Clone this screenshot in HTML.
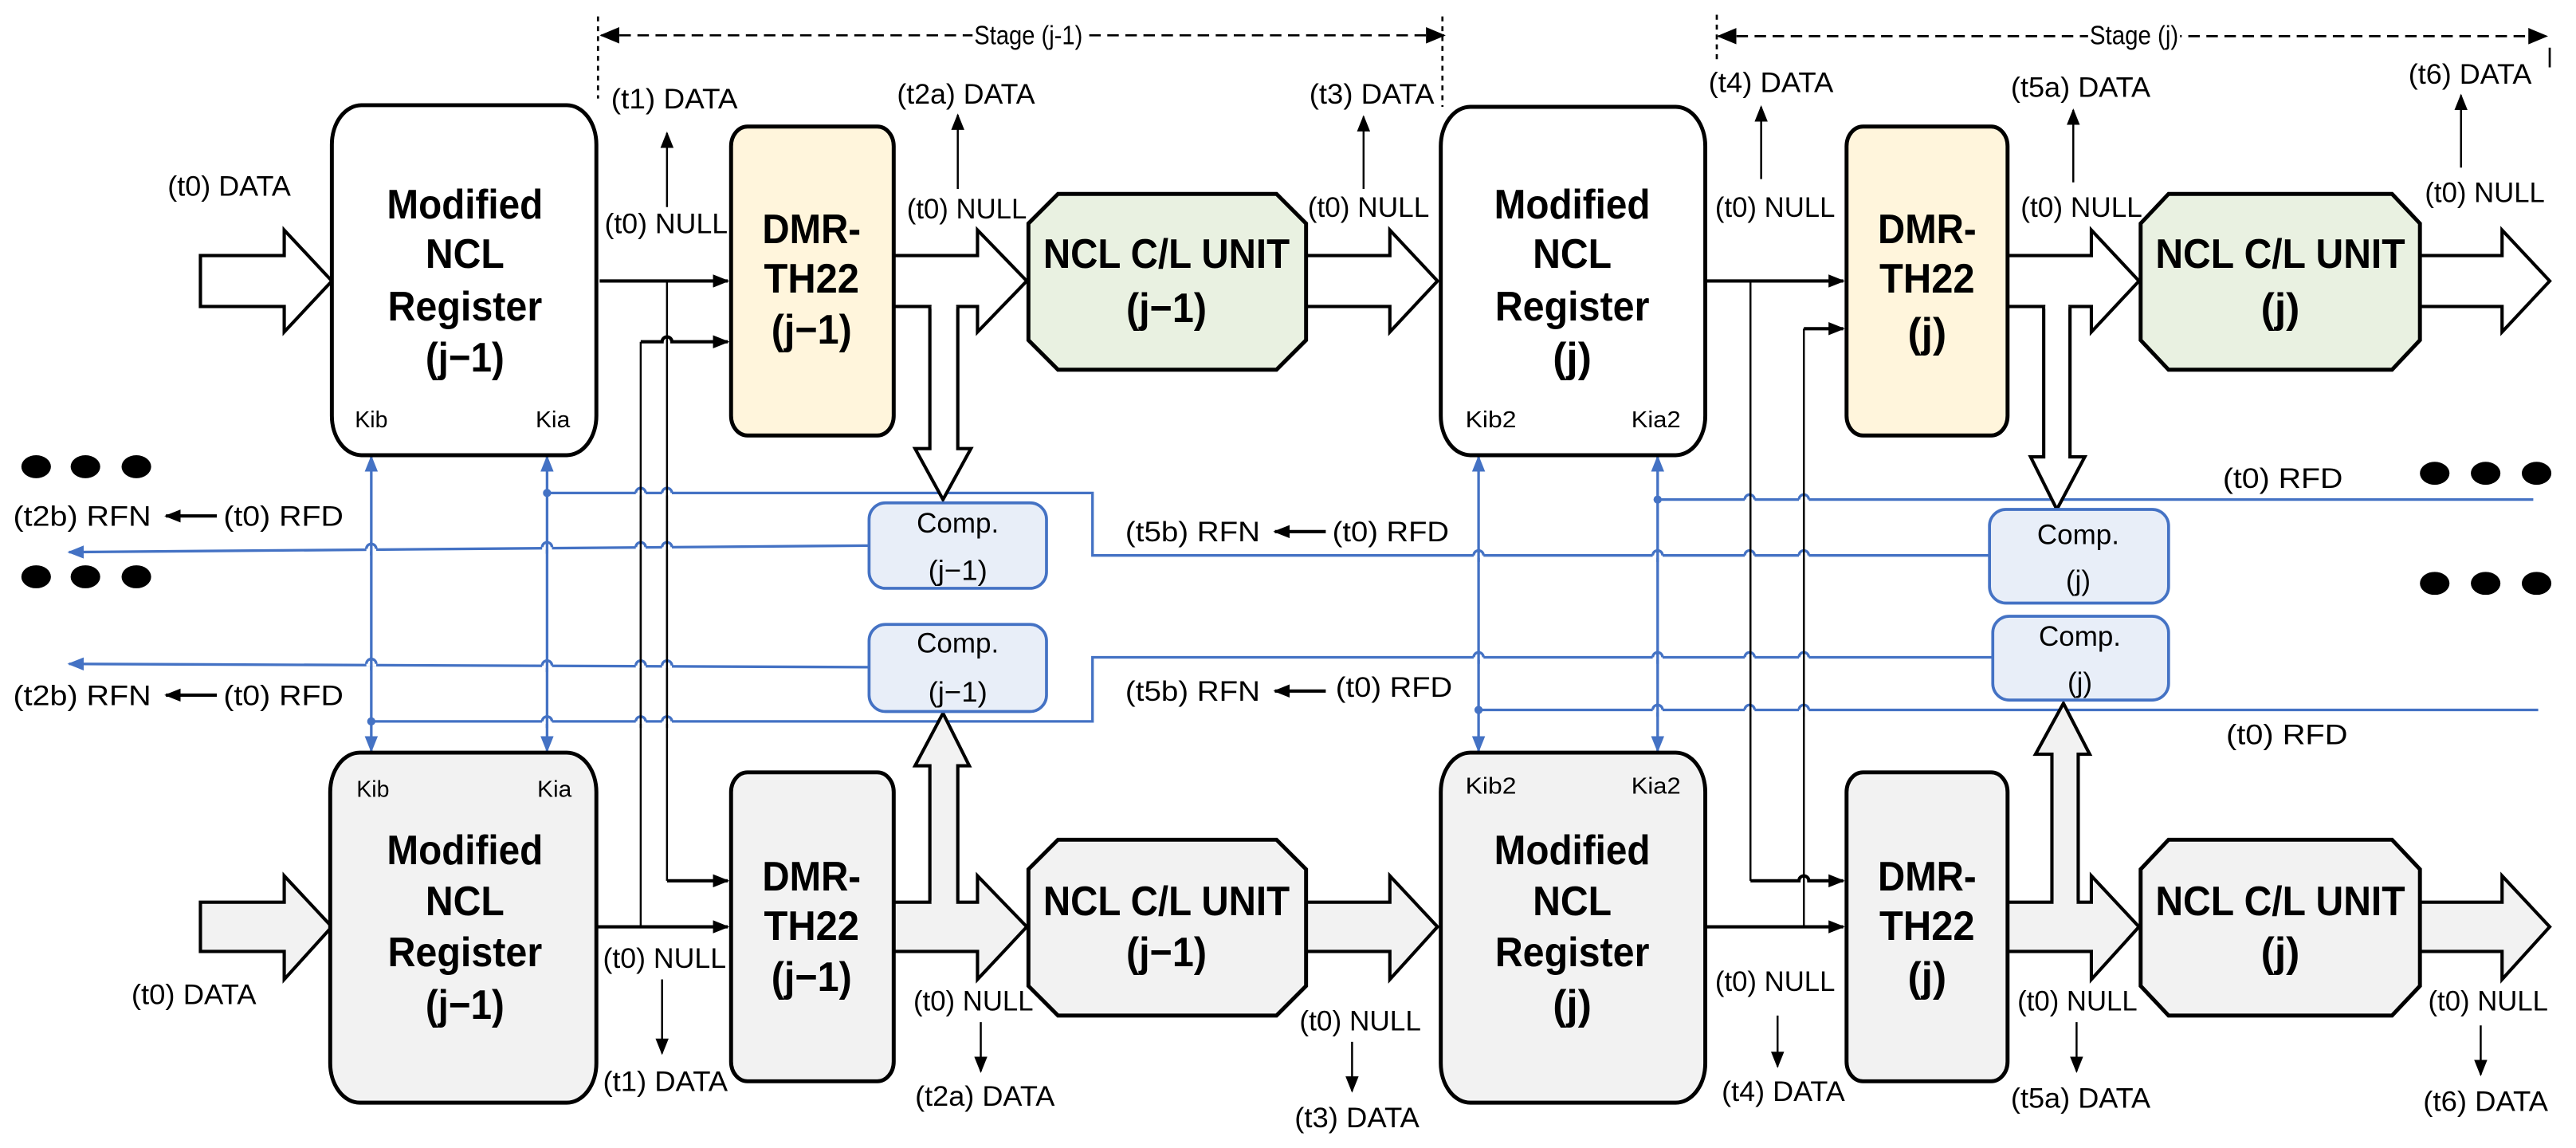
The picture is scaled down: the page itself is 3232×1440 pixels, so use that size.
<!DOCTYPE html>
<html><head><meta charset="utf-8"><style>
html,body{margin:0;padding:0;background:#fff;}
svg{display:block;}
text{font-family:"Liberation Sans Narrow","Liberation Sans",sans-serif;fill:#000;}
.l{font-size:17px;}
.b{font-size:25px;font-weight:bold;text-anchor:middle;}
.s{font-size:14px;}
.c{font-size:17px;text-anchor:middle;}
.bx{stroke:#000;stroke-width:2.4;}
.bl{stroke:#4472c4;stroke-width:1.6;fill:none;}
.k{stroke:#000;stroke-width:1.2;fill:none;}
.kk{stroke:#000;stroke-width:2;fill:none;}
.fa{stroke:#000;stroke-width:2;}
</style></head><body>
<svg width="3232" height="1440" viewBox="0 0 1568 698.6" preserveAspectRatio="none" xmlns="http://www.w3.org/2000/svg">
<defs>
<marker id="ah" markerUnits="userSpaceOnUse" markerWidth="10" markerHeight="8" refX="9" refY="4" orient="auto"><path d="M0,0 L10,4 L0,8 z" fill="#000"/></marker>
<marker id="ahb" markerUnits="userSpaceOnUse" markerWidth="10" markerHeight="8" refX="9" refY="4" orient="auto"><path d="M0,0 L10,4 L0,8 z" fill="#4472c4"/></marker>
<marker id="ahbs" markerUnits="userSpaceOnUse" markerWidth="10" markerHeight="8" refX="1" refY="4" orient="auto"><path d="M10,0 L0,4 L10,8 z" fill="#4472c4"/></marker>
<marker id="ahs" markerUnits="userSpaceOnUse" markerWidth="12" markerHeight="10" refX="1" refY="5" orient="auto"><path d="M12,0 L0,5 L12,10 z" fill="#000"/></marker>
<marker id="ahe" markerUnits="userSpaceOnUse" markerWidth="12" markerHeight="10" refX="11" refY="5" orient="auto"><path d="M0,0 L12,5 L0,10 z" fill="#000"/></marker>
</defs>

<g stroke="#000" stroke-width="1.3" fill="none">
<line x1="364" y1="10" x2="364" y2="60" stroke-dasharray="3,3"/>
<line x1="878" y1="10" x2="878" y2="65" stroke-dasharray="3,3"/>
<line x1="1045" y1="9" x2="1045" y2="36" stroke-dasharray="3,3"/>
<line x1="1552" y1="29" x2="1552" y2="41"/>
<line x1="366" y1="21.5" x2="879" y2="21.5" stroke-dasharray="7,4" marker-start="url(#ahs)" marker-end="url(#ahe)"/>
<line x1="1046" y1="22" x2="1550" y2="22" stroke-dasharray="7,4" marker-start="url(#ahs)" marker-end="url(#ahe)"/>
</g>
<rect x="592" y="12" width="68" height="18" fill="#fff"/>
<text x="626" y="27" style="font-size:16px" text-anchor="middle" textLength="66" lengthAdjust="spacingAndGlyphs">Stage (j-1)</text>
<rect x="1271" y="12" width="56" height="18" fill="#fff"/>
<text x="1299" y="27" style="font-size:16px" text-anchor="middle" textLength="54" lengthAdjust="spacingAndGlyphs">Stage (j)</text>

<g class="bl">
<path d="M333,300 H665 V338 H1211"/>
<path d="M529,332 L42,336" marker-end="url(#ahb)"/>
<path d="M529,406 L42,404" marker-end="url(#ahb)"/>
<path d="M226,439 H665 V400 H1213"/>
<path d="M1009,304 H1542"/>
<path d="M900,432 H1545"/>
<line x1="226" y1="457" x2="226" y2="278" marker-end="url(#ahb)" marker-start="url(#ahbs)"/>
<line x1="333" y1="457" x2="333" y2="278" marker-end="url(#ahb)" marker-start="url(#ahbs)"/>
<line x1="900" y1="457" x2="900" y2="278" marker-end="url(#ahb)" marker-start="url(#ahbs)"/>
<line x1="1009" y1="457" x2="1009" y2="278" marker-end="url(#ahb)" marker-start="url(#ahbs)"/>
</g>
<g fill="#4472c4"><circle cx="333" cy="300" r="2.5"/><circle cx="226" cy="439" r="2.5"/><circle cx="1009" cy="304" r="2.5"/><circle cx="900" cy="432" r="2.5"/></g>

<g class="k">
<line x1="390" y1="208" x2="390" y2="564"/>
<line x1="406" y1="171" x2="406" y2="536"/>
<line x1="1065.5" y1="171" x2="1065.5" y2="536"/>
<line x1="1098" y1="200" x2="1098" y2="564"/>
</g>

<g stroke="#fff" stroke-width="3">
<line x1="387" y1="300" x2="393" y2="300"/><line x1="403" y1="300" x2="409" y2="300"/>
<line x1="223" y1="334" x2="229" y2="334"/><line x1="330" y1="333" x2="336" y2="333"/><line x1="387" y1="333" x2="393" y2="333"/><line x1="403" y1="333" x2="409" y2="333"/>
<line x1="223" y1="404" x2="229" y2="404"/><line x1="330" y1="405" x2="336" y2="405"/><line x1="387" y1="405" x2="393" y2="405"/><line x1="403" y1="405" x2="409" y2="405"/>
<line x1="330" y1="439" x2="336" y2="439"/><line x1="387" y1="439" x2="393" y2="439"/><line x1="403" y1="439" x2="409" y2="439"/>
<line x1="897" y1="338" x2="903" y2="338"/><line x1="1006" y1="338" x2="1012" y2="338"/><line x1="1062" y1="338" x2="1068" y2="338"/><line x1="1095" y1="338" x2="1101" y2="338"/>
<line x1="897" y1="400" x2="903" y2="400"/><line x1="1006" y1="400" x2="1012" y2="400"/><line x1="1062" y1="400" x2="1068" y2="400"/><line x1="1095" y1="400" x2="1101" y2="400"/>
<line x1="1062" y1="304" x2="1068" y2="304"/><line x1="1095" y1="304" x2="1101" y2="304"/>
<line x1="1006" y1="432" x2="1012" y2="432"/><line x1="1062" y1="432" x2="1068" y2="432"/><line x1="1095" y1="432" x2="1101" y2="432"/>
</g>
<g class="bl" stroke-width="1.4">
<path d="M387,300 a3,3 0 0 1 6,0 M403,300 a3,3 0 0 1 6,0"/>
<path d="M223,334 a3,3 0 0 1 6,0 M330,333 a3,3 0 0 1 6,0 M387,333 a3,3 0 0 1 6,0 M403,333 a3,3 0 0 1 6,0"/>
<path d="M223,404 a3,3 0 0 1 6,0 M330,405 a3,3 0 0 1 6,0 M387,405 a3,3 0 0 1 6,0 M403,405 a3,3 0 0 1 6,0"/>
<path d="M330,439 a3,3 0 0 1 6,0 M387,439 a3,3 0 0 1 6,0 M403,439 a3,3 0 0 1 6,0"/>
<path d="M897,338 a3,3 0 0 1 6,0 M1006,338 a3,3 0 0 1 6,0 M1062,338 a3,3 0 0 1 6,0 M1095,338 a3,3 0 0 1 6,0"/>
<path d="M897,400 a3,3 0 0 1 6,0 M1006,400 a3,3 0 0 1 6,0 M1062,400 a3,3 0 0 1 6,0 M1095,400 a3,3 0 0 1 6,0"/>
<path d="M1062,304 a3,3 0 0 1 6,0 M1095,304 a3,3 0 0 1 6,0"/>
<path d="M1006,432 a3,3 0 0 1 6,0 M1062,432 a3,3 0 0 1 6,0 M1095,432 a3,3 0 0 1 6,0"/>
</g>
<g stroke="#4472c4" stroke-width="1.6">
<line x1="226" y1="330" x2="226" y2="338"/><line x1="333" y1="329" x2="333" y2="337"/><line x1="226" y1="400" x2="226" y2="408"/><line x1="333" y1="401" x2="333" y2="409"/><line x1="333" y1="435" x2="333" y2="443"/>
<line x1="900" y1="334" x2="900" y2="342"/><line x1="1009" y1="334" x2="1009" y2="342"/><line x1="900" y1="396" x2="900" y2="404"/><line x1="1009" y1="396" x2="1009" y2="404"/><line x1="1009" y1="428" x2="1009" y2="436"/>
</g>
<g stroke="#000" stroke-width="1.2">
<line x1="390" y1="296" x2="390" y2="443"/><line x1="406" y1="296" x2="406" y2="443"/>
<line x1="1065.5" y1="300" x2="1065.5" y2="436"/><line x1="1098" y1="300" x2="1098" y2="436"/>
</g>

<g class="kk">
<path d="M365,171 H443" marker-end="url(#ah)"/>
<path d="M390,208 H403 a3,3 0 0 1 6,0 H443" marker-end="url(#ah)"/>
<path d="M406,536 H443" marker-end="url(#ah)"/>
<path d="M363,564 H443" marker-end="url(#ah)"/>
<path d="M1038,171 H1122" marker-end="url(#ah)"/>
<path d="M1098,200 H1122" marker-end="url(#ah)"/>
<path d="M1065.5,536 H1095 a3,3 0 0 1 6,0 H1122" marker-end="url(#ah)"/>
<path d="M1038,564 H1122" marker-end="url(#ah)"/>
</g>

<g class="fa" fill="#fff">
<path d="M122,155.5 H173 V140 L202,171 L173,202 V186.5 H122 Z"/>
<path d="M544,155.5 H595 V140 L625,171 L595,202 V186.5 H544 Z"/>
<path d="M795,155.5 H846 V140 L875,171 L846,202 V186.5 H795 Z"/>
<path d="M1222,155.5 H1273 V140 L1302,171 L1273,202 V186.5 H1222 Z"/>
<path d="M1473,155.5 H1523 V140 L1552,171 L1523,202 V186.5 H1473 Z"/>
<path d="M566,186.5 V273 H557 L574,304 L591,273 H583 V186.5"/>
<path d="M1244,186.5 V278 H1236 L1252,310 L1269,278 H1260 V186.5"/>
</g>
<rect x="567" y="184" width="15" height="4" fill="#fff"/>
<rect x="1245" y="184" width="14" height="4" fill="#fff"/>
<g class="fa" fill="#f2f2f2">
<path d="M122,549 H173 V533 L202,564 L173,596 V579 H122 Z"/>
<path d="M544,549 H595 V533 L625,564 L595,596 V579 H544 Z"/>
<path d="M795,549 H846 V533 L875,564 L846,596 V579 H795 Z"/>
<path d="M1222,549 H1273 V533 L1302,564 L1273,596 V579 H1222 Z"/>
<path d="M1473,549 H1523 V533 L1552,564 L1523,596 V579 H1473 Z"/>
<path d="M566,549.5 V466 H557 L574,434 L590,466 H583 V549.5"/>
<path d="M1249,549.5 V459 H1239 L1256,428 L1272,459 H1265 V549.5"/>
</g>
<rect x="567" y="548" width="15" height="4" fill="#f2f2f2"/>
<rect x="1250" y="548" width="14" height="4" fill="#f2f2f2"/>

<rect class="bx" x="202" y="64" width="161" height="213" rx="18" ry="24" fill="#fff"/>
<rect class="bx" x="877" y="65" width="161" height="212" rx="18" ry="24" fill="#fff"/>
<rect class="bx" x="201" y="458" width="162" height="213" rx="18" ry="24" fill="#f2f2f2"/>
<rect class="bx" x="877" y="458" width="161" height="213" rx="18" ry="24" fill="#f2f2f2"/>
<rect class="bx" x="445" y="77" width="99" height="188" rx="10" ry="12" fill="#fff5dc"/>
<rect class="bx" x="1124" y="77" width="98" height="188" rx="10" ry="12" fill="#fff5dc"/>
<rect class="bx" x="445" y="470" width="99" height="188" rx="10" ry="12" fill="#f2f2f2"/>
<rect class="bx" x="1124" y="470" width="98" height="188" rx="10" ry="12" fill="#f2f2f2"/>
<path class="bx" fill="#e9f1e1" d="M644,118 H777 L795,136 V207 L777,225 H644 L626,207 V136 Z"/>
<path class="bx" fill="#e9f1e1" d="M1320,118 H1456 L1473,136 V207 L1456,225 H1320 L1303,207 V136 Z"/>
<path class="bx" fill="#f2f2f2" d="M644,511 H777 L795,529 V600 L777,618 H644 L626,600 V529 Z"/>
<path class="bx" fill="#f2f2f2" d="M1320,511 H1456 L1473,529 V600 L1456,618 H1320 L1303,600 V529 Z"/>
<g stroke="#4472c4" stroke-width="1.8" fill="#e8eef8">
<rect x="529" y="306" width="108" height="52" rx="10"/>
<rect x="529" y="380" width="108" height="53" rx="10"/>
<rect x="1211" y="310" width="109" height="57" rx="10"/>
<rect x="1213" y="375" width="107" height="51" rx="10"/>
</g>
<g class="c">
<text x="583" y="324" textLength="50" lengthAdjust="spacingAndGlyphs">Comp.</text><text x="583" y="353" textLength="36" lengthAdjust="spacingAndGlyphs">(j−1)</text>
<text x="583" y="397" textLength="50" lengthAdjust="spacingAndGlyphs">Comp.</text><text x="583" y="427" textLength="36" lengthAdjust="spacingAndGlyphs">(j−1)</text>
<text x="1265" y="331" textLength="50" lengthAdjust="spacingAndGlyphs">Comp.</text><text x="1265" y="359">(j)</text>
<text x="1266" y="393" textLength="50" lengthAdjust="spacingAndGlyphs">Comp.</text><text x="1266" y="421">(j)</text>
</g>

<g class="b">
<text x="283" y="133" textLength="95" lengthAdjust="spacingAndGlyphs">Modified</text><text x="283" y="163" textLength="48" lengthAdjust="spacingAndGlyphs">NCL</text><text x="283" y="195" textLength="94" lengthAdjust="spacingAndGlyphs">Register</text><text x="283" y="226" textLength="48" lengthAdjust="spacingAndGlyphs">(j−1)</text>
<text x="283" y="526" textLength="95" lengthAdjust="spacingAndGlyphs">Modified</text><text x="283" y="557" textLength="48" lengthAdjust="spacingAndGlyphs">NCL</text><text x="283" y="588" textLength="94" lengthAdjust="spacingAndGlyphs">Register</text><text x="283" y="620" textLength="48" lengthAdjust="spacingAndGlyphs">(j−1)</text>
<text x="957" y="133" textLength="95" lengthAdjust="spacingAndGlyphs">Modified</text><text x="957" y="163" textLength="48" lengthAdjust="spacingAndGlyphs">NCL</text><text x="957" y="195" textLength="94" lengthAdjust="spacingAndGlyphs">Register</text><text x="957" y="226">(j)</text>
<text x="957" y="526" textLength="95" lengthAdjust="spacingAndGlyphs">Modified</text><text x="957" y="557" textLength="48" lengthAdjust="spacingAndGlyphs">NCL</text><text x="957" y="588" textLength="94" lengthAdjust="spacingAndGlyphs">Register</text><text x="957" y="620">(j)</text>
<text x="494" y="148" textLength="60" lengthAdjust="spacingAndGlyphs">DMR-</text><text x="494" y="178" textLength="58" lengthAdjust="spacingAndGlyphs">TH22</text><text x="494" y="209" textLength="49" lengthAdjust="spacingAndGlyphs">(j−1)</text>
<text x="494" y="542" textLength="60" lengthAdjust="spacingAndGlyphs">DMR-</text><text x="494" y="572" textLength="58" lengthAdjust="spacingAndGlyphs">TH22</text><text x="494" y="603" textLength="49" lengthAdjust="spacingAndGlyphs">(j−1)</text>
<text x="1173" y="148" textLength="60" lengthAdjust="spacingAndGlyphs">DMR-</text><text x="1173" y="178" textLength="58" lengthAdjust="spacingAndGlyphs">TH22</text><text x="1173" y="211">(j)</text>
<text x="1173" y="542" textLength="60" lengthAdjust="spacingAndGlyphs">DMR-</text><text x="1173" y="572" textLength="58" lengthAdjust="spacingAndGlyphs">TH22</text><text x="1173" y="603">(j)</text>
<text x="710" y="163" textLength="150" lengthAdjust="spacingAndGlyphs">NCL C/L UNIT</text><text x="710" y="196" textLength="49" lengthAdjust="spacingAndGlyphs">(j−1)</text>
<text x="1388" y="163" textLength="152" lengthAdjust="spacingAndGlyphs">NCL C/L UNIT</text><text x="1388" y="196">(j)</text>
<text x="710" y="557" textLength="150" lengthAdjust="spacingAndGlyphs">NCL C/L UNIT</text><text x="710" y="588" textLength="49" lengthAdjust="spacingAndGlyphs">(j−1)</text>
<text x="1388" y="557" textLength="152" lengthAdjust="spacingAndGlyphs">NCL C/L UNIT</text><text x="1388" y="588">(j)</text>
</g>
<g class="s">
<text x="216" y="260" textLength="20" lengthAdjust="spacingAndGlyphs">Kib</text><text x="326" y="260" textLength="21" lengthAdjust="spacingAndGlyphs">Kia</text>
<text x="217" y="485" textLength="20" lengthAdjust="spacingAndGlyphs">Kib</text><text x="327" y="485" textLength="21" lengthAdjust="spacingAndGlyphs">Kia</text>
<text x="892" y="260" textLength="31" lengthAdjust="spacingAndGlyphs">Kib2</text><text x="993" y="260" textLength="30" lengthAdjust="spacingAndGlyphs">Kia2</text>
<text x="892" y="483" textLength="31" lengthAdjust="spacingAndGlyphs">Kib2</text><text x="993" y="483" textLength="30" lengthAdjust="spacingAndGlyphs">Kia2</text>
</g>

<g class="k">
<line x1="406" y1="126" x2="406" y2="81" marker-end="url(#ah)"/>
<line x1="583" y1="115" x2="583" y2="70" marker-end="url(#ah)"/>
<line x1="830" y1="115" x2="830" y2="71" marker-end="url(#ah)"/>
<line x1="1072" y1="109" x2="1072" y2="65" marker-end="url(#ah)"/>
<line x1="1262" y1="111" x2="1262" y2="67" marker-end="url(#ah)"/>
<line x1="1498" y1="102" x2="1498" y2="58" marker-end="url(#ah)"/>
<line x1="403" y1="596" x2="403" y2="641" marker-end="url(#ah)"/>
<line x1="597" y1="622" x2="597" y2="652" marker-end="url(#ah)"/>
<line x1="823" y1="634" x2="823" y2="664" marker-end="url(#ah)"/>
<line x1="1082" y1="618" x2="1082" y2="649" marker-end="url(#ah)"/>
<line x1="1264" y1="622" x2="1264" y2="652" marker-end="url(#ah)"/>
<line x1="1510" y1="624" x2="1510" y2="654" marker-end="url(#ah)"/>
</g>
<g class="kk">
<line x1="132" y1="314" x2="101" y2="314" marker-end="url(#ah)"/>
<line x1="132" y1="423" x2="101" y2="423" marker-end="url(#ah)"/>
<line x1="807" y1="323.5" x2="776" y2="323.5" marker-end="url(#ah)"/>
<line x1="807" y1="420.5" x2="776" y2="420.5" marker-end="url(#ah)"/>
</g>

<g class="l">
<text x="102" y="119" textLength="75" lengthAdjust="spacingAndGlyphs">(t0) DATA</text>
<text x="372" y="66" textLength="77" lengthAdjust="spacingAndGlyphs">(t1) DATA</text>
<text x="368" y="142" textLength="75" lengthAdjust="spacingAndGlyphs">(t0) NULL</text>
<text x="546" y="63" textLength="84" lengthAdjust="spacingAndGlyphs">(t2a) DATA</text>
<text x="552" y="133" textLength="73" lengthAdjust="spacingAndGlyphs">(t0) NULL</text>
<text x="797" y="63" textLength="76" lengthAdjust="spacingAndGlyphs">(t3) DATA</text>
<text x="796" y="132" textLength="74" lengthAdjust="spacingAndGlyphs">(t0) NULL</text>
<text x="1040" y="56" textLength="76" lengthAdjust="spacingAndGlyphs">(t4) DATA</text>
<text x="1044" y="132" textLength="73" lengthAdjust="spacingAndGlyphs">(t0) NULL</text>
<text x="1224" y="59" textLength="85" lengthAdjust="spacingAndGlyphs">(t5a) DATA</text>
<text x="1230" y="132" textLength="74" lengthAdjust="spacingAndGlyphs">(t0) NULL</text>
<text x="1466" y="51" textLength="75" lengthAdjust="spacingAndGlyphs">(t6) DATA</text>
<text x="1476" y="123" textLength="73" lengthAdjust="spacingAndGlyphs">(t0) NULL</text>

<text x="80" y="611" textLength="76" lengthAdjust="spacingAndGlyphs">(t0) DATA</text>
<text x="367" y="589" textLength="75" lengthAdjust="spacingAndGlyphs">(t0) NULL</text>
<text x="367" y="664" textLength="76" lengthAdjust="spacingAndGlyphs">(t1) DATA</text>
<text x="556" y="615" textLength="73" lengthAdjust="spacingAndGlyphs">(t0) NULL</text>
<text x="557" y="673" textLength="85" lengthAdjust="spacingAndGlyphs">(t2a) DATA</text>
<text x="791" y="627" textLength="74" lengthAdjust="spacingAndGlyphs">(t0) NULL</text>
<text x="788" y="686" textLength="76" lengthAdjust="spacingAndGlyphs">(t3) DATA</text>
<text x="1044" y="603" textLength="73" lengthAdjust="spacingAndGlyphs">(t0) NULL</text>
<text x="1048" y="670" textLength="75" lengthAdjust="spacingAndGlyphs">(t4) DATA</text>
<text x="1228" y="615" textLength="73" lengthAdjust="spacingAndGlyphs">(t0) NULL</text>
<text x="1224" y="674" textLength="85" lengthAdjust="spacingAndGlyphs">(t5a) DATA</text>
<text x="1478" y="615" textLength="73" lengthAdjust="spacingAndGlyphs">(t0) NULL</text>
<text x="1475" y="676" textLength="76" lengthAdjust="spacingAndGlyphs">(t6) DATA</text>

<text x="8" y="320" textLength="84" lengthAdjust="spacingAndGlyphs">(t2b) RFN</text>
<text x="136" y="320" textLength="73" lengthAdjust="spacingAndGlyphs">(t0) RFD</text>
<text x="8" y="429" textLength="84" lengthAdjust="spacingAndGlyphs">(t2b) RFN</text>
<text x="136" y="429" textLength="73" lengthAdjust="spacingAndGlyphs">(t0) RFD</text>
<text x="685" y="329.5" textLength="82" lengthAdjust="spacingAndGlyphs">(t5b) RFN</text>
<text x="811" y="329.5" textLength="71" lengthAdjust="spacingAndGlyphs">(t0) RFD</text>
<text x="685" y="426.5" textLength="82" lengthAdjust="spacingAndGlyphs">(t5b) RFN</text>
<text x="813" y="424" textLength="71" lengthAdjust="spacingAndGlyphs">(t0) RFD</text>
<text x="1353" y="297" textLength="73" lengthAdjust="spacingAndGlyphs">(t0) RFD</text>
<text x="1355" y="453" textLength="74" lengthAdjust="spacingAndGlyphs">(t0) RFD</text>
</g>

<g fill="#000">
<ellipse cx="22" cy="284" rx="9" ry="7"/><ellipse cx="52" cy="284" rx="9" ry="7"/><ellipse cx="83" cy="284" rx="9" ry="7"/>
<ellipse cx="22" cy="351" rx="9" ry="7"/><ellipse cx="52" cy="351" rx="9" ry="7"/><ellipse cx="83" cy="351" rx="9" ry="7"/>
<ellipse cx="1482" cy="288" rx="9" ry="7"/><ellipse cx="1513" cy="288" rx="9" ry="7"/><ellipse cx="1544" cy="288" rx="9" ry="7"/>
<ellipse cx="1482" cy="355" rx="9" ry="7"/><ellipse cx="1513" cy="355" rx="9" ry="7"/><ellipse cx="1544" cy="355" rx="9" ry="7"/>
</g>
</svg>
</body></html>
